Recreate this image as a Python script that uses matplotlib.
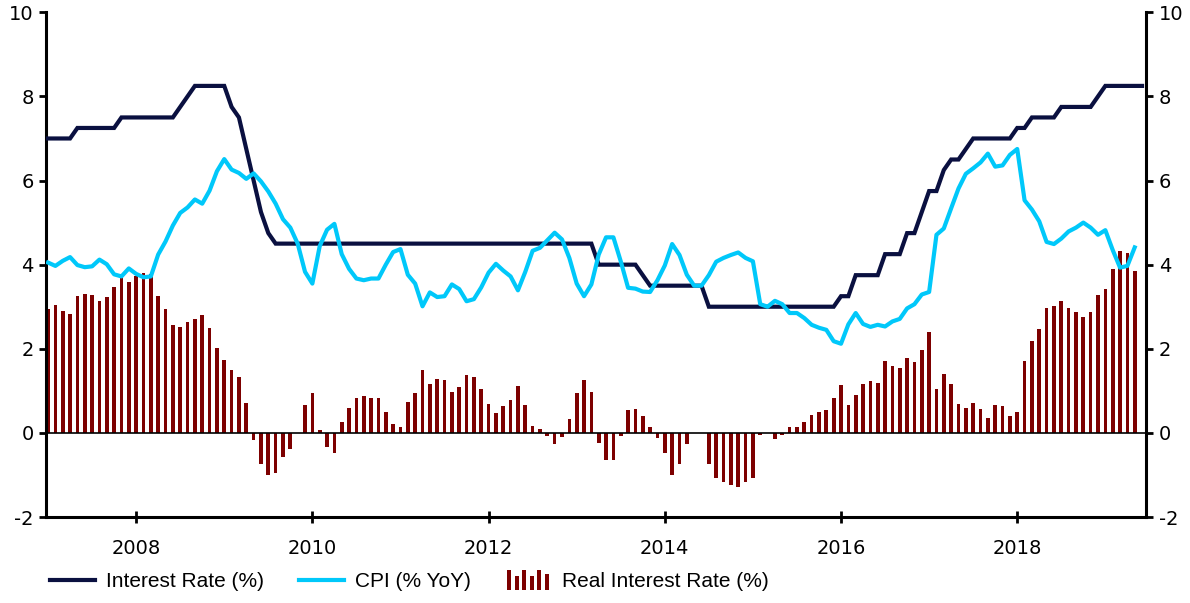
import numpy as np
import matplotlib
matplotlib.use('Agg')
import matplotlib.pyplot as plt
from matplotlib.patches import Rectangle
from matplotlib.legend_handler import HandlerBase

plt.rcParams['axes.unicode_minus'] = False

# Monthly data starting Jan 2007 (one row per year)
interest_rate = [
    7.0, 7.0, 7.0, 7.0, 7.25, 7.25, 7.25, 7.25, 7.25, 7.25, 7.5, 7.5,
    7.5, 7.5, 7.5, 7.5, 7.5, 7.5, 7.75, 8.0, 8.25, 8.25, 8.25, 8.25,
    8.25, 7.75, 7.5, 6.75, 6.0, 5.25, 4.75, 4.5, 4.5, 4.5, 4.5, 4.5,
    4.5, 4.5, 4.5, 4.5, 4.5, 4.5, 4.5, 4.5, 4.5, 4.5, 4.5, 4.5,
    4.5, 4.5, 4.5, 4.5, 4.5, 4.5, 4.5, 4.5, 4.5, 4.5, 4.5, 4.5,
    4.5, 4.5, 4.5, 4.5, 4.5, 4.5, 4.5, 4.5, 4.5, 4.5, 4.5, 4.5,
    4.5, 4.5, 4.5, 4.0, 4.0, 4.0, 4.0, 4.0, 4.0, 3.75, 3.5, 3.5,
    3.5, 3.5, 3.5, 3.5, 3.5, 3.5, 3.0, 3.0, 3.0, 3.0, 3.0, 3.0,
    3.0, 3.0, 3.0, 3.0, 3.0, 3.0, 3.0, 3.0, 3.0, 3.0, 3.0, 3.0,
    3.25, 3.25, 3.75, 3.75, 3.75, 3.75, 4.25, 4.25, 4.25, 4.75, 4.75, 5.25,
    5.75, 5.75, 6.25, 6.5, 6.5, 6.75, 7.0, 7.0, 7.0, 7.0, 7.0, 7.0,
    7.25, 7.25, 7.5, 7.5, 7.5, 7.5, 7.75, 7.75, 7.75, 7.75, 7.75, 8.0,
    8.25, 8.25, 8.25, 8.25, 8.25, 8.25,
]

cpi = [
    4.05, 3.97, 4.09, 4.18, 3.99, 3.94, 3.96, 4.12, 4.01, 3.77, 3.72, 3.91,
    3.78, 3.70, 3.72, 4.24, 4.55, 4.93, 5.23, 5.36, 5.55, 5.45, 5.76, 6.22,
    6.51, 6.26, 6.18, 6.04, 6.17, 5.98, 5.74, 5.45, 5.08, 4.88, 4.50, 3.83,
    3.55, 4.44, 4.83, 4.97, 4.25, 3.90, 3.67, 3.63, 3.67, 3.67, 4.00, 4.30,
    4.37, 3.76, 3.55, 3.01, 3.34, 3.23, 3.25, 3.53, 3.42, 3.13, 3.18, 3.46,
    3.81, 4.02, 3.86, 3.72, 3.39, 3.83, 4.33, 4.40, 4.58, 4.76, 4.60, 4.16,
    3.55, 3.25, 3.53, 4.24, 4.65, 4.65, 4.08, 3.45, 3.43, 3.36, 3.35, 3.63,
    3.98, 4.49, 4.23, 3.76, 3.50, 3.50, 3.75, 4.07, 4.16, 4.23, 4.29, 4.16,
    4.08, 3.06, 3.00, 3.14, 3.06, 2.85, 2.85, 2.73, 2.57, 2.50, 2.45, 2.18,
    2.12, 2.58, 2.85, 2.59, 2.52, 2.57, 2.53, 2.65, 2.71, 2.96, 3.06, 3.29,
    3.35, 4.71, 4.86, 5.34, 5.81, 6.16, 6.29, 6.43, 6.64, 6.33, 6.36, 6.61,
    6.75, 5.53, 5.31, 5.03, 4.54, 4.49, 4.62, 4.79, 4.88, 5.00, 4.88, 4.71,
    4.82, 4.35, 3.93, 3.97, 4.41,
]

real_rate = [
    2.95, 3.03, 2.91, 2.82, 3.26, 3.31, 3.29, 3.13, 3.24, 3.48, 3.78, 3.59,
    3.72, 3.80, 3.78, 3.26, 2.95, 2.57, 2.52, 2.64, 2.70, 2.80, 2.49, 2.03,
    1.74, 1.49, 1.32, 0.71, -0.17, -0.73, -0.99, -0.95, -0.58, -0.38, 0.0, 0.67,
    0.95, 0.06, -0.33, -0.47, 0.25, 0.60, 0.83, 0.87, 0.83, 0.83, 0.50, 0.20,
    0.13, 0.74, 0.95, 1.49, 1.16, 1.27, 1.25, 0.97, 1.08, 1.37, 1.32, 1.04,
    0.69, 0.48, 0.64, 0.78, 1.11, 0.67, 0.17, 0.10, -0.08, -0.26, -0.10, 0.34,
    0.95, 1.25, 0.97, -0.24, -0.65, -0.65, -0.08, 0.55, 0.57, 0.39, 0.15, -0.13,
    -0.48, -0.99, -0.73, -0.26, 0.0, 0.0, -0.75, -1.07, -1.16, -1.23, -1.29, -1.16,
    -1.08, -0.06, 0.0, -0.14, -0.06, 0.15, 0.15, 0.27, 0.43, 0.50, 0.55, 0.82,
    1.13, 0.67, 0.90, 1.16, 1.23, 1.18, 1.72, 1.60, 1.54, 1.79, 1.69, 1.96,
    2.40, 1.04, 1.39, 1.16, 0.69, 0.59, 0.71, 0.57, 0.36, 0.67, 0.64, 0.39,
    0.50, 1.72, 2.19, 2.47, 2.96, 3.01, 3.13, 2.96, 2.87, 2.75, 2.87, 3.29,
    3.43, 3.90, 4.32, 4.28, 3.84,
]

START_YEAR = 2007
tick_years = [2008, 2010, 2012, 2014, 2016, 2018]
labels = ['Interest Rate (%)', 'CPI (% YoY)', 'Real Interest Rate (%)']

RATE_COLOR = '#0a1040'
CPI_COLOR = '#00c8fa'
BAR_COLOR = '#7d0000'


class BarIconHandler(HandlerBase):
    # little bar-chart glyph used in the legend for the bar series
    def create_artists(self, legend, orig_handle, xdescent, ydescent,
                       width, height, fontsize, trans):
        heights = [1.0, 0.72, 1.0, 0.72, 1.0, 0.8]
        step = width / len(heights)
        arts = []
        for k, h in enumerate(heights):
            r = Rectangle((-xdescent + k * step + step * 0.2, -ydescent - 0.2 * height),
                          step * 0.55, h * height * 1.35,
                          facecolor=BAR_COLOR, edgecolor='none', transform=trans)
            arts.append(r)
        return arts


def main():
    x_rate = np.arange(len(interest_rate))
    x_cpi = np.arange(len(cpi))
    x_real = np.arange(len(real_rate))

    fig = plt.figure(figsize=(11.9, 6.03), dpi=100)
    ax = fig.add_axes([0.0387, 0.1426, 0.9244, 0.837])

    bars = ax.bar(x_real, real_rate, width=0.5, color=BAR_COLOR, zorder=2)
    ax.axhline(0, color='black', lw=1.2, zorder=2.5)
    rate_line, = ax.plot(x_rate, interest_rate, color=RATE_COLOR, lw=3, zorder=3,
                         solid_joinstyle='miter')
    cpi_line, = ax.plot(x_cpi, cpi, color=CPI_COLOR, lw=3, zorder=4)

    ax.set_xlim(-0.27, 149.55)
    ax.set_ylim(-2, 10)
    ax.set_yticks(range(-2, 11, 2))
    ax.set_xticks([(y - START_YEAR) * 12 for y in tick_years])
    ax.set_xticklabels([str(y) for y in tick_years])

    for side in ['left', 'right', 'bottom']:
        ax.spines[side].set_linewidth(2.2)
    ax.spines['top'].set_visible(False)

    ax.tick_params(axis='y', direction='out', length=5, width=2, labelsize=14,
                   left=True, right=True, labelleft=True, labelright=True, pad=4)
    ax.tick_params(axis='x', direction='inout', length=8, width=2, labelsize=14, pad=12)

    fig.legend([rate_line, cpi_line, bars], labels,
               handler_map={bars: BarIconHandler()},
               loc='center', bbox_to_anchor=(0.344, 0.036), ncol=3,
               frameon=False, prop={'family': 'Liberation Sans', 'size': 15},
               handlelength=2.16, handletextpad=0.55, columnspacing=1.65)

    fig.savefig('out.png', dpi=100)
    plt.close(fig)


if __name__ == '__main__':
    main()
